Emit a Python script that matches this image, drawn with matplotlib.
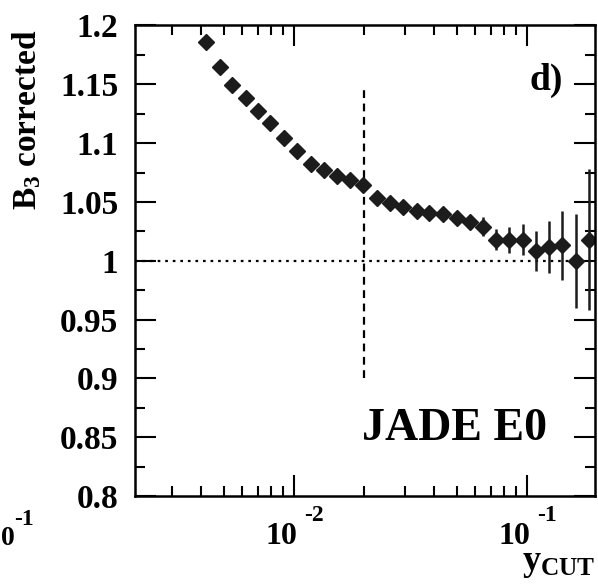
import matplotlib
matplotlib.use('Agg')
from matplotlib import pyplot as plt
from matplotlib.ticker import MultipleLocator, LogLocator, NullFormatter

# B3 corrected vs y_cut (JADE E0)
ycut = [0.0042, 0.0048, 0.0054, 0.0062, 0.0070, 0.0079, 0.0091, 0.0103,
        0.0118, 0.0134, 0.0153, 0.0174, 0.0198, 0.0227, 0.0258, 0.0293,
        0.0336, 0.0381, 0.0437, 0.0499, 0.0569, 0.0649, 0.0734, 0.0840,
        0.0958, 0.109, 0.125, 0.142, 0.162, 0.185]
b3 = [1.186, 1.165, 1.149, 1.138, 1.127, 1.117, 1.104, 1.093,
      1.082, 1.077, 1.072, 1.069, 1.064, 1.053, 1.049, 1.046,
      1.042, 1.041, 1.040, 1.036, 1.033, 1.029, 1.018, 1.018,
      1.018, 1.008, 1.012, 1.013, 1.000, 1.018]
b3_err = [0.001, 0.001, 0.001, 0.001, 0.001, 0.001, 0.001, 0.001,
          0.001, 0.001, 0.001, 0.001, 0.002, 0.002, 0.002, 0.002,
          0.002, 0.003, 0.003, 0.005, 0.005, 0.008, 0.009, 0.011,
          0.013, 0.017, 0.022, 0.029, 0.040, 0.060]

cut_line = 0.02
cut_span = [0.9, 1.145]

yticks = [0.8, 0.85, 0.9, 0.95, 1.0, 1.05, 1.1, 1.15, 1.2]
ylabels = ['0.8', '0.85', '0.9', '0.95', '1', '1.05', '1.1', '1.15', '1.2']
xticks = [0.01, 0.1]
xexps = ['-2', '-1']


def b3Plot():
    plt.rcParams['font.family'] = ['Liberation Serif', 'DejaVu Serif']
    plt.rcParams['font.weight'] = 'bold'
    plt.rcParams['axes.labelweight'] = 'bold'
    plt.rcParams['mathtext.fontset'] = 'custom'
    plt.rcParams['mathtext.rm'] = 'Liberation Serif:bold'
    plt.rcParams['mathtext.bf'] = 'Liberation Serif:bold'
    plt.rcParams['mathtext.it'] = 'Liberation Serif:bold'

    fig = plt.figure(figsize=(5.98, 5.86), dpi=100)
    ax = fig.add_axes([0.2258, 0.1536, 0.7692, 0.8029])

    ax.axhline(1.0, ls=(0, (1.2, 2.2)), lw=1.6, color='black')
    ax.vlines(cut_line, cut_span[0], cut_span[1],
              linestyles=(0, (3.5, 2.5)), lw=1.6, color='black')

    ax.errorbar(ycut, b3, yerr=b3_err, fmt='D', color='#1c1c1c',
                ms=8.5, elinewidth=1.8, capsize=0)

    ax.set_xscale('log')
    ax.set_xlim(0.00208, 0.196)
    ax.set_ylim(0.8, 1.2)

    ax.set_yticks(yticks, labels=ylabels)
    ax.yaxis.set_minor_locator(MultipleLocator(0.025))
    ax.set_xticks(xticks, labels=['', ''])
    ax.xaxis.set_minor_locator(LogLocator(base=10, subs=range(2, 10)))
    ax.xaxis.set_minor_formatter(NullFormatter())

    # old-style "10  -2" labels with a high, detached exponent
    for xt, ex in zip(xticks, xexps):
        ax.annotate('10', xy=(xt, 0), xycoords=('data', 'axes fraction'),
                    xytext=(2.5, -34.5), textcoords='offset points',
                    fontsize=23, ha='right', va='baseline')
        ax.annotate(ex, xy=(xt, 0), xycoords=('data', 'axes fraction'),
                    xytext=(7, -18), textcoords='offset points',
                    fontsize=17, ha='left', va='baseline')

    ax.tick_params(which='both', direction='in', top=True, right=True,
                   width=1.5)
    ax.tick_params(which='major', length=15)
    ax.tick_params(which='minor', length=7.5)
    ax.tick_params(axis='y', labelsize=24, pad=12)
    for sp in ax.spines.values():
        sp.set_linewidth(1.8)

    ax.set_ylabel(r'$\mathbf{B_3}$ corrected', fontsize=24, loc='top')
    ax.yaxis.set_label_coords(-0.2, 0.99)
    ax.set_xlabel(r'$\mathbf{y_{CUT}}$', fontsize=26, loc='right')
    ax.xaxis.set_label_coords(1.0, -0.108)

    ax.text(0.93, 0.863, 'd)', transform=ax.transAxes, fontsize=27,
            ha='right', va='baseline')
    ax.text(0.896, 0.119, 'JADE E0', transform=ax.transAxes, fontsize=33,
            ha='right', va='baseline')

    # bit of the neighbouring panel's axis label at the left edge
    fig.text(0.5 / 598, 1 - 545 / 586, '0', fontsize=20, ha='left',
             va='baseline')
    fig.text(14 / 598, 1 - 525 / 586, '-1', fontsize=17, ha='left',
             va='baseline')

    plt.savefig('out.png')


def main():
    b3Plot()


if __name__ == "__main__":
    main()
